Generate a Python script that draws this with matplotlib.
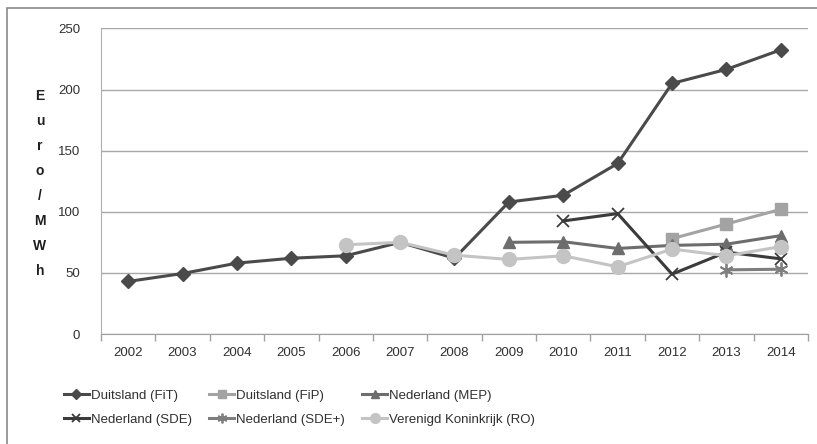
import numpy as np
import matplotlib.pyplot as plt
from matplotlib.patches import Rectangle

# jaren en tarieven (Euro/MWh); None = geen regeling in dat jaar
years = ["2002", "2003", "2004", "2005", "2006", "2007", "2008",
         "2009", "2010", "2011", "2012", "2013", "2014"]

de_fit = [43, 49.5, 58, 62, 64, 75, 62, 108, 113.5, 139.5, 205, 216.5, 232.5]
de_fip = [None] * 10 + [78, 90, 102]
nl_mep = [None] * 7 + [75, 75.5, 70, 72.5, 73.5, 80.5]
nl_sde = [None] * 8 + [92.5, 98.5, 49, 67, 61.5]
nl_sdeplus = [None] * 11 + [52.5, 53]
uk_ro = [None] * 4 + [73, 75, 64.5, 61, 64, 55, 69.5, 64, 71.5]

names = ["Duitsland (FiT)", "Duitsland (FiP)", "Nederland (MEP)",
         "Nederland (SDE)", "Nederland (SDE+)", "Verenigd Koninkrijk (RO)"]

plt.rcParams['font.family'] = ["Liberation Sans", "DejaVu Sans"]
fs = 9.5

fig = plt.figure(figsize=(8.17, 4.44), dpi=100)
ax = fig.add_axes([0.1236, 0.2477, 0.8654, 0.6883])

x = np.arange(len(years))

def arr(v):
    return np.array([np.nan if a is None else a for a in v], dtype=float)

styles = [
    (de_fit, "#4a4a4a", "D", 7, 1.0),
    (de_fip, "#a3a3a3", "s", 9, 1.0),
    (nl_mep, "#6d6d6d", "^", 9, 1.0),
    (nl_sde, "#3b3b3b", "x", 9, 1.3),
    (nl_sdeplus, "#7e7e7e", (6, 2, 0), 10, 1.3),
    (uk_ro, "#c4c4c4", "o", 10, 1.0),
]

handles = []
for (vals, col, mk, ms, mew), name in zip(styles, names):
    h, = ax.plot(x, arr(vals), color=col, lw=2.2, marker=mk, ms=ms,
                 mec=col, mfc=col, mew=mew, label=name)
    handles.append(h)

ax.set_xlim(-0.5, len(years) - 0.5)
ax.set_ylim(0, 250)
ax.set_yticks(np.arange(0, 251, 50))
ax.set_xticks(x)
ax.set_xticklabels(years)
ax.set_xticks(np.arange(-0.5, len(years), 1), minor=True)
ax.tick_params(axis="x", which="major", length=0, pad=9, labelsize=fs,
               colors="#303030")
ax.tick_params(axis="x", which="minor", length=5, color="#a0a0a0", width=1)
ax.tick_params(axis="y", length=0, pad=15, labelsize=fs, colors="#303030")
ax.grid(axis="y", color="#a8a8a8", lw=1)
ax.set_axisbelow(True)
for s in ["top", "right"]:
    ax.spines[s].set_visible(False)
ax.spines["left"].set_color("#b0b0b0")
ax.spines["bottom"].set_color("#a0a0a0")

# verticale aslabel, letter voor letter
for i, ch in enumerate("Euro/MWh"):
    fig.text(40 / 817, 1 - (96 + 25 * i) / 444, ch, ha="center", va="center",
             fontsize=10, fontweight="bold", color="#202020")

order = [0, 3, 1, 4, 2, 5]
fig.legend([handles[i] for i in order], [names[i] for i in order],
           loc="upper left", bbox_to_anchor=(52 / 817, 1 - 378 / 444),
           ncol=3, frameon=False, fontsize=fs, handlelength=1.9,
           handletextpad=0.15, columnspacing=1.3, labelspacing=0.85,
           markerscale=0.7, labelcolor="#303030")

fig.patches.append(Rectangle((7 / 817, -0.05), 1.1, 1 - 8 / 444 + 0.05,
                             transform=fig.transFigure, fill=False,
                             ec="#8a8a8a", lw=1.2))

fig.savefig("out.png", dpi=100)
